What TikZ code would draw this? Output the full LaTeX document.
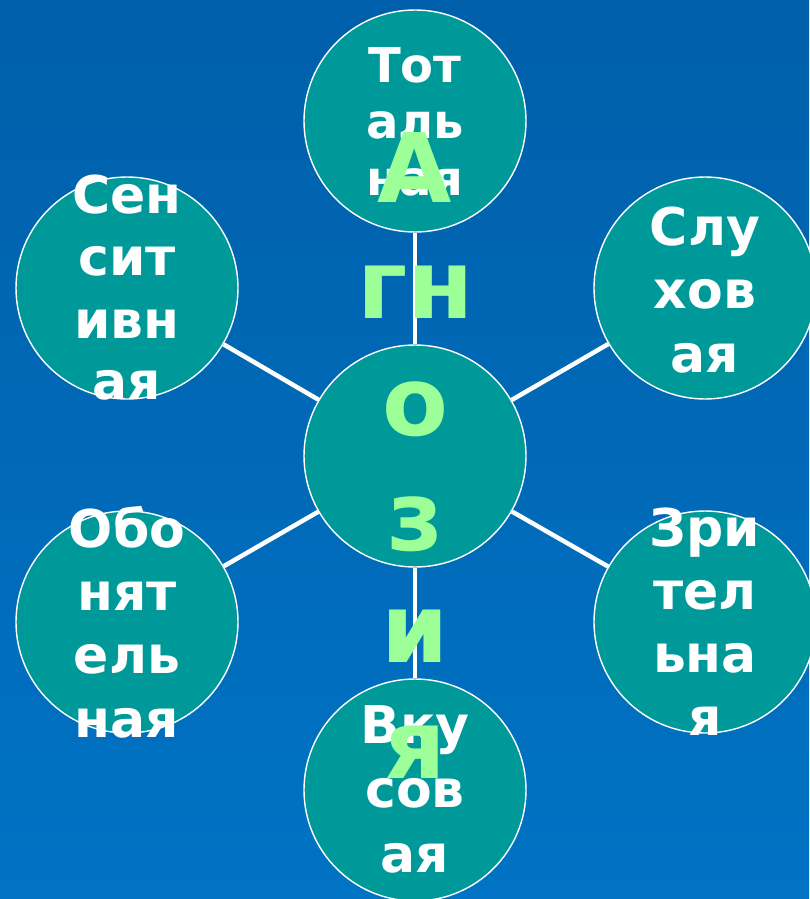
\documentclass[tikz,border=0pt]{standalone}
\usepackage{fontspec}
\setmainfont{DejaVu Sans}
\definecolor{tealO}{HTML}{009999}
\definecolor{greenL}{HTML}{9CFF98}
\definecolor{bgtop}{HTML}{005FAA}
\definecolor{bgbot}{HTML}{0073C4}
\begin{document}
\begin{tikzpicture}[x=1pt,y=-1pt,
  bub/.style={circle,draw=white,line width=1.4pt,fill=tealO,minimum size=222pt,inner sep=0pt},
  conn/.style={draw=white,line width=4.5pt},
  lbl/.style={anchor=base,text=white,inner sep=0pt,font=\bfseries\fontsize{52}{62}\selectfont},
  lblsm/.style={lbl,font=\bfseries\fontsize{48}{56}\selectfont},
  big/.style={anchor=base,text=greenL,inner sep=0pt,font=\bfseries\fontsize{96}{115}\selectfont}]
\shade[top color=bgtop,bottom color=bgbot] (0,0) rectangle (809,899);
\useasboundingbox (0,0) rectangle (809,899);
% circles
\node[bub] (c)  at (415,456) {};
\node[bub] (t)  at (415,121) {};
\node[bub] (lt) at (127,288) {};
\node[bub] (rt) at (705,288) {};
\node[bub] (lb) at (127,622) {};
\node[bub] (rb) at (705,622) {};
\node[bub] (b)  at (415,790) {};
% connectors
\draw[conn] (c) -- (t);
\draw[conn] (c) -- (lt);
\draw[conn] (c) -- (rt);
\draw[conn] (c) -- (lb);
\draw[conn] (c) -- (rb);
\draw[conn] (c) -- (b);
% top
\node[lblsm] (t1) at (415,82) {Тот};
\node[lblsm] (t2) at (415,138) {аль};
\node[lblsm] (t3) at (415,195) {ная};
% left top
\node[lbl] (lt1) at (127,213) {Сен};
\node[lbl] (lt2) at (127,275) {сит};
\node[lbl] (lt3) at (127,338) {ивн};
\node[lbl] (lt4) at (127,399) {ая};
% right top
\node[lbl] (rt1) at (705,245) {Слу};
\node[lbl] (rt2) at (705,308) {хов};
\node[lbl] (rt3) at (705,372) {ая};
% left bottom
\node[lbl] (lb1) at (127,547) {Обо};
\node[lbl] (lb2) at (127,610) {нят};
\node[lbl] (lb3) at (127,673) {ель};
\node[lbl] (lb4) at (127,737) {ная};
% right bottom
\node[lbl] (rb1) at (705,546) {Зри};
\node[lbl] (rb2) at (705,609) {тел};
\node[lbl] (rb3) at (705,672) {ьна};
\node[lbl] (rb4) at (705,735) {я};
% bottom
\node[lbl] (b1) at (415,743) {Вку};
\node[lbl] (b2) at (415,807) {сов};
\node[lbl] (b3) at (415,872) {ая};
% big green word
\node[big] (g1) at (415,202) {А};
\node[big] (g2) at (416,318) {гн};
\node[big] (g3) at (415,435) {о};
\node[big] (g4) at (415,550) {з};
\node[big] (g5) at (415,662) {и};
\node[big] (g6) at (415,778) {я};
\end{tikzpicture}
\end{document}
